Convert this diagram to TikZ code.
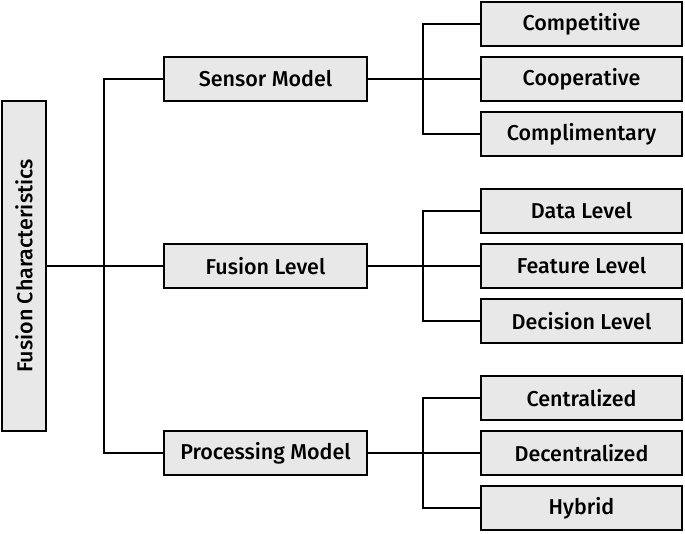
\documentclass[tikz,border=0pt]{standalone}
\usepackage{fontspec}
\setmainfont{Fira Sans}[UprightFont=* Medium]
\usepackage{graphicx}
\usepackage{tikz}
\usetikzlibrary{positioning}
\definecolor{boxgray}{RGB}{232, 232, 232}
\tikzstyle{rootbox} = [rectangle, draw=black, line width=1.5pt, fill=boxgray, text=black, inner sep=0pt, outer sep=0pt, minimum width=44pt, minimum height=330pt, font=\fontsize{21.5}{24}\selectfont]
\tikzstyle{midbox} = [rectangle, draw=black, line width=1.5pt, fill=boxgray, text=black, inner sep=0pt, outer sep=0pt, minimum width=203pt, minimum height=44pt, font=\fontsize{21.5}{24}\selectfont]
\tikzstyle{leafbox} = [rectangle, draw=black, line width=1.5pt, fill=boxgray, text=black, inner sep=0pt, outer sep=0pt, minimum width=201pt, minimum height=44pt, font=\fontsize{21.5}{24}\selectfont]
\tikzstyle{tedge}  = [draw, line width=1.2pt]

\begin{document}
\begin{tikzpicture}[x=1pt, y=-1pt]
\useasboundingbox (0,0) rectangle (685,533);

% boxes =============================

% root
\node[rootbox] (fusion) at (24,266) {\rotatebox{90}{Fusion Characteristics}};

% middle column
\node[midbox, right=118pt of fusion] (level) {Fusion Level};
\node[midbox, above=143pt of level] (sensor) {Sensor Model};
\node[midbox, below=143pt of level] (processing) {Processing Model};

% sensor model
\node[leafbox, right=114pt of sensor] (coop) {Cooperative};
\node[leafbox, above=11pt of coop] (compet) {Competitive};
\node[leafbox, below=11pt of coop] (compl) {Complimentary};

% fusion level
\node[leafbox, right=114pt of level] (feature) {Feature Level};
\node[leafbox, above=11pt of feature] (data) {Data Level};
\node[leafbox, below=11pt of feature] (decision) {Decision Level};

% processing model
\node[leafbox, right=114pt of processing] (decentral) {Decentralized};
\node[leafbox, above=11pt of decentral] (central) {Centralized};
\node[leafbox, below=11pt of decentral] (hybrid) {Hybrid};

% trunks
\coordinate (mtrunk) at ([xshift=-60pt]level.west);
\coordinate (strunk) at ([xshift=-58pt]coop.west);
\coordinate (ltrunk) at ([xshift=-58pt]feature.west);
\coordinate (ptrunk) at ([xshift=-58pt]decentral.west);

%edges
\path[tedge] (fusion) -- (level);
\path[tedge] (sensor.west) -| (mtrunk) |- (processing.west);

\path[tedge] (sensor) -- (coop);
\path[tedge] (compet.west) -| (strunk) |- (compl.west);
\path[tedge] (level) -- (feature);
\path[tedge] (data.west) -| (ltrunk) |- (decision.west);
\path[tedge] (processing) -- (decentral);
\path[tedge] (central.west) -| (ptrunk) |- (hybrid.west);

\end{tikzpicture}
\end{document}
